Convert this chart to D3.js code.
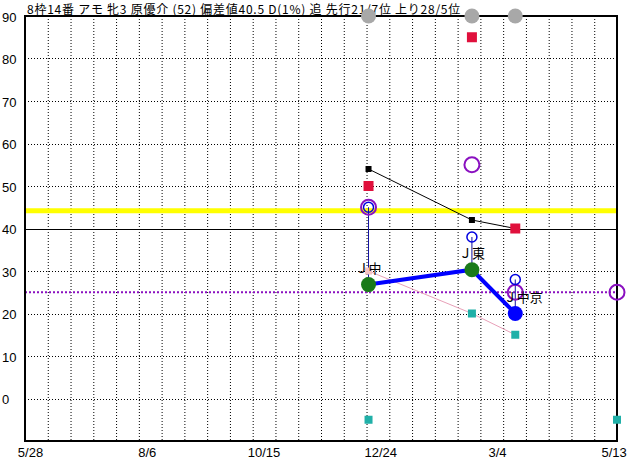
<!DOCTYPE html>
<html><head><meta charset="utf-8">
<script src="https://cdn.jsdelivr.net/npm/d3@7"></script>
<style>body{margin:0;background:#fff} svg{display:block}</style>
</head><body><svg id="c" width="632" height="460"></svg>
<script>
const titleText = "8枠14番 アモ 牝3 原優介 (52) 偏差値40.5 D(1%) 追 先行21/7位 上り28/5位";
const xTickDates = ["2022-05-28","2022-08-06","2022-10-15","2022-12-24","2023-03-04","2023-05-13"];
const yTicks = [90,80,70,60,50,40,30,20,10,0];
const raceDates = ["2022-12-17","2023-02-17","2023-03-15"];
const todayDate = "2023-05-15";
const raceLabels = ["Ｊ中","Ｊ東","Ｊ中京"];
const labelShift = [0,0,8];
const grayTop = [90,90,90];
const blackVals = [54,42,40];
const redVals = [50,85,40];
const purpleVals = [45,55,25];
const blueOpenVals = [45,38,28];
const mainVals = [26.8,30.3,20];
const mainColors = ["#1a7a1a","#1a7a1a","#0000ff"];
const pinkVals = [30,20,15];
const bottomCyanVals = [-5];
const todayPurple = 25;
const todayCyan = -5;
const yellowLevel = 44.2;
const blackLevel = 40;
const purpleLevel = 25;

const parse = d3.utcParse("%Y-%m-%d");
const svg = d3.select("#c");
const X0 = 25, X1 = 617, Y0 = 16, Y1 = 441;
const x = d3.scaleUtc().domain([parse("2022-05-25"), parse("2023-05-15")]).range([X0, X1]);
const y = d3.scaleLinear().domain([-10, 90]).range([Y1, Y0]);
const gx = d3.scaleLinear().domain([0, 26]).range([X0, X1]);
const rx = raceDates.map(parse);
const tx = parse(todayDate);

// title
svg.append("text").attr("x", 27).attr("y", 14).attr("font-family", "'Noto Sans CJK JP'")
  .attr("font-size", 12).attr("letter-spacing", 0.75).attr("fill", "#000").text(titleText);

// grid
const g = svg.append("g");
g.selectAll(".vg").data(d3.range(1, 26)).join("line")
  .attr("x1", d => gx(d) + 0.5).attr("x2", d => gx(d) + 0.5).attr("y1", Y0).attr("y2", Y1)
  .attr("stroke", "#000").attr("stroke-dasharray", "1,2");
g.selectAll(".hg").data(yTicks.filter(v => v !== 90 && v !== blackLevel)).join("line")
  .attr("x1", X0).attr("x2", X1).attr("y1", d => Math.round(y(d)) + 0.5).attr("y2", d => Math.round(y(d)) + 0.5)
  .attr("stroke", "#000").attr("stroke-dasharray", "1,2");

// reference lines
svg.append("line").attr("x1", X0).attr("x2", X1).attr("y1", y(yellowLevel)).attr("y2", y(yellowLevel))
  .attr("stroke", "#ffff00").attr("stroke-width", 5);
svg.append("line").attr("x1", X0).attr("x2", X1).attr("y1", Math.round(y(blackLevel)) + 0.5).attr("y2", Math.round(y(blackLevel)) + 0.5)
  .attr("stroke", "#000").attr("stroke-width", 1);
svg.append("line").attr("x1", X0).attr("x2", X1).attr("y1", y(purpleLevel)).attr("y2", y(purpleLevel))
  .attr("stroke", "#8a10c0").attr("stroke-width", 2).attr("stroke-dasharray", "2,2");

// axes
const ya = svg.append("g").attr("transform", "translate(2,1)")
  .call(d3.axisLeft(y).tickValues(yTicks).tickSize(0).tickPadding(0));
ya.select(".domain").remove();
ya.selectAll("text").attr("x", 0).attr("text-anchor", "start")
  .attr("font-family", "'Liberation Sans', Arial, sans-serif").attr("font-size", 13).attr("fill", "#000");
const xa = svg.append("g").attr("transform", `translate(0,${Y1})`)
  .call(d3.axisBottom(x).tickValues(xTickDates.map(parse)).tickFormat(d3.utcFormat("%-m/%-d")).tickSize(0).tickPadding(7));
xa.select(".domain").remove();
xa.selectAll("text").attr("font-family", "'Liberation Sans', Arial, sans-serif").attr("font-size", 13).attr("fill", "#000");

// frame
svg.append("rect").attr("x", X0).attr("y", Y0).attr("width", X1 - X0).attr("height", Y1 - Y0)
  .attr("fill", "none").attr("stroke", "#000").attr("stroke-width", 2);

// pink line
svg.append("path").datum(pinkVals).attr("fill", "none").attr("stroke", "#e8a0b8").attr("stroke-width", 1)
  .attr("d", d3.line().x((d, i) => x(rx[i])).y(d => y(d)));
// black line
svg.append("path").datum(blackVals).attr("fill", "none").attr("stroke", "#000").attr("stroke-width", 1)
  .attr("d", d3.line().x((d, i) => x(rx[i])).y(d => y(d)));
// blue verticals
svg.selectAll(".bv").data(blueOpenVals).join("line")
  .attr("x1", (d, i) => x(rx[i])).attr("x2", (d, i) => x(rx[i]))
  .attr("y1", d => y(d)).attr("y2", (d, i) => y(mainVals[i]))
  .attr("stroke", "#1010a0").attr("stroke-width", 1);
// thick blue main line
svg.append("path").datum(mainVals).attr("fill", "none").attr("stroke", "#0000ff").attr("stroke-width", 4)
  .attr("d", d3.line().x((d, i) => x(rx[i])).y(d => y(d)));

// squares
function squares(vals, dates, size, color) {
  svg.append("g").selectAll("rect").data(vals).join("rect")
    .attr("x", (d, i) => x(dates[i]) - size / 2).attr("y", d => y(d) - size / 2)
    .attr("width", size).attr("height", size).attr("fill", color);
}
squares(blackVals.slice(0, 2), rx, 6, "#000");
squares(redVals, rx, 10, "#e0103c");
squares([pinkVals[0]], rx, 7, "#f4c4c4");
squares(pinkVals.slice(1), rx.slice(1), 8, "#20b0a8");
squares(bottomCyanVals, rx, 8, "#20b0a8");
squares([todayCyan], [tx], 8, "#20b0a8");

// open circles
svg.append("g").selectAll("circle").data(purpleVals.concat([todayPurple])).join("circle")
  .attr("cx", (d, i) => x(i < 3 ? rx[i] : tx)).attr("cy", d => y(d)).attr("r", 7.5)
  .attr("fill", "none").attr("stroke", "#8a10c0").attr("stroke-width", 2);
svg.append("g").selectAll("circle").data(blueOpenVals).join("circle")
  .attr("cx", (d, i) => x(rx[i])).attr("cy", d => y(d)).attr("r", 5)
  .attr("fill", "none").attr("stroke", "#0000e0").attr("stroke-width", 1.5);

// main filled points
svg.append("g").selectAll("circle").data(mainVals).join("circle")
  .attr("cx", (d, i) => x(rx[i])).attr("cy", d => y(d)).attr("r", 7.5)
  .attr("fill", (d, i) => mainColors[i]);

// labels
svg.append("g").selectAll("text").data(raceLabels).join("text")
  .attr("x", (d, i) => x(rx[i]) + labelShift[i]).attr("y", (d, i) => y(mainVals[i]) - 12)
  .attr("text-anchor", "middle").attr("font-family", "'Noto Sans CJK JP'").attr("font-size", 13)
  .attr("fill", "#000").text(d => d);

// gray top circles
svg.append("g").selectAll("circle").data(grayTop).join("circle")
  .attr("cx", (d, i) => x(rx[i])).attr("cy", d => y(d)).attr("r", 7.5).attr("fill", "#a8a8a8");
</script></body></html>
